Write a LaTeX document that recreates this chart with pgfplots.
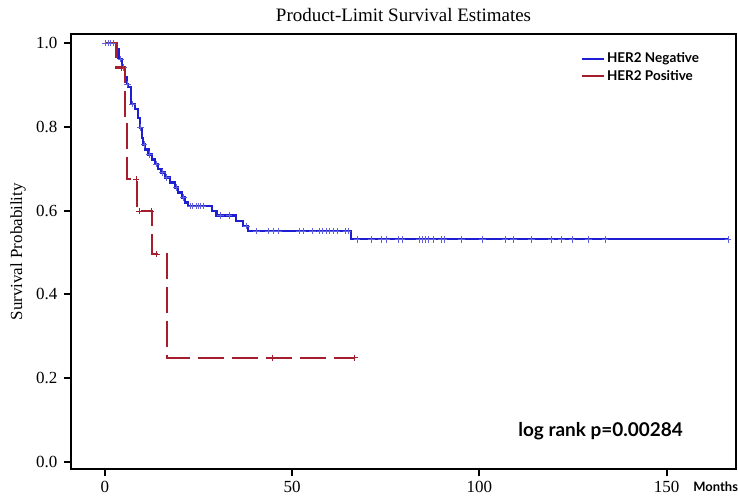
\documentclass[border=0pt]{standalone}
\usepackage{pgfplots}
\pgfplotsset{compat=1.18}
\usepackage{fontspec}
\setmainfont{Liberation Serif}
\newfontfamily\legfont{Lato}
\definecolor{negblue}{RGB}{30,30,210}
\definecolor{posred}{RGB}{165,30,45}

\begin{document}
\begin{tikzpicture}
\begin{axis}[
  scale only axis, width=666pt, height=436pt,
  xmin=-9.1, xmax=168.6, ymin=-0.019, ymax=1.022,
  clip=false,
  xtick={0,50,100,150}, ytick={0,0.2,0.4,0.6,0.8,1},
  xtick pos=left, ytick pos=left,
  tick align=outside, major tick length=7pt,
  tick style={black, line width=2pt},
  axis line style={line width=2pt},
  /pgf/number format/assume math mode=true,
  yticklabel style={/pgf/number format/.cd, fixed, fixed zerofill, precision=1,
    /tikz/.cd, font=\fontsize{17}{19}\selectfont, xshift=-3pt},
  xticklabel style={font=\fontsize{17}{19}\selectfont, yshift=-1pt},
  ylabel={Survival Probability},
  ylabel style={font=\fontsize{17}{19}\selectfont, at={(-0.0796,0.5)}, anchor=center},
  legend style={draw=none, fill=none, at={(0.952,0.966)}, anchor=north east,
    font=\legfont\bfseries\fontsize{13.5}{15}\selectfont, row sep=2pt},
  legend cell align=left,
  legend image code/.code={\draw[#1, solid] (0pt,0pt) -- (22pt,0pt);},
]
% HER2 Negative
\addplot[const plot, mark=none, negblue, line width=2.2pt] coordinates {
(0,1.0) (3.1,0.985) (3.6,0.965) (4.0,0.962) (4.5,0.942) (5.3,0.918)
(5.8,0.902) (6.2,0.895) (6.9,0.854) (8.0,0.842) (8.9,0.822) (9.3,0.798)
(9.8,0.774) (10.2,0.758) (10.7,0.746) (11.6,0.734) (12.5,0.722) (13.3,0.711)
(14.2,0.699) (15.1,0.691) (16.0,0.679) (17.3,0.667) (18.7,0.655) (19.6,0.643)
(20.5,0.631) (21.4,0.619) (22.2,0.611) (28.5,0.599) (29.8,0.588) (35.0,0.575)
(36.9,0.563) (38.2,0.551) (65.8,0.531) (166.5,0.531)
};
\addlegendentry{HER2 Negative}
% HER2 Positive
\addplot[const plot, mark=none, posred, line width=2.2pt, dash pattern=on 26pt off 8pt] coordinates {
(0,1.0) (3.1,0.942) (5.3,0.81) (5.9,0.675) (8.5,0.599) (12.5,0.496) (16.5,0.248) (66.7,0.248)
};
\addlegendentry{HER2 Positive}
% censored, negative
\addplot[only marks, mark=+, mark size=3.2pt, negblue!70, mark options={line width=0.8pt}, forget plot] coordinates {
(0,1.0) (0.8,1.0) (1.5,1.0) (2.2,1.0) (4.2,0.962) (5.0,0.942) (6.0,0.902) (7.3,0.854)
(9.5,0.798) (10.5,0.758) (11.9,0.734) (13.8,0.711) (15.4,0.691) (16.5,0.679) (19.0,0.655) (21.0,0.631)
(22.7,0.611) (23.4,0.611) (24.5,0.611) (25.0,0.611) (25.6,0.611) (26.2,0.611)
(30.9,0.588) (33.2,0.588) (37.8,0.563)
(40.5,0.551) (43.6,0.551) (44.9,0.551) (46.4,0.551) (52.0,0.551) (52.9,0.551)
(55.4,0.551) (57.4,0.551) (58.1,0.551) (59.1,0.551) (60.0,0.551) (60.9,0.551)
(62.0,0.551) (64.3,0.551) (64.9,0.551)
(67.3,0.531) (71.2,0.531) (73.9,0.531) (75.2,0.531) (78.3,0.531) (79.4,0.531)
(83.9,0.531) (84.8,0.531) (85.7,0.531) (86.3,0.531) (87.6,0.531) (89.9,0.531)
(90.6,0.531) (95.2,0.531) (100.8,0.531) (106.9,0.531) (109.1,0.531) (113.9,0.531)
(119.2,0.531) (121.9,0.531) (124.8,0.531) (129.2,0.531) (133.6,0.531) (166.4,0.531)
};
% censored, positive
\addplot[only marks, mark=+, mark size=3.2pt, posred, mark options={line width=0.8pt}, forget plot] coordinates {
(4.4,0.942) (8.3,0.675) (9.1,0.599) (12.3,0.599) (13.8,0.496) (44.7,0.248) (66.7,0.248)
};
\node[font=\fontsize{19}{21}\selectfont] at (rel axis cs:0.5,1.044) {Product-Limit Survival Estimates};
\node[anchor=center, font=\legfont\bfseries\fontsize{19}{21}\selectfont] at (axis cs:132.4,0.072) {log rank p=0.00284};
\node[anchor=west, inner sep=0pt, font=\legfont\bfseries\fontsize{13}{15}\selectfont] at (rel axis cs:0.9354,-0.039) {Months};
\path (rel axis cs:-0.1066,1.078) rectangle (rel axis cs:1.0015,-0.0573);
\end{axis}
\end{tikzpicture}
\end{document}
